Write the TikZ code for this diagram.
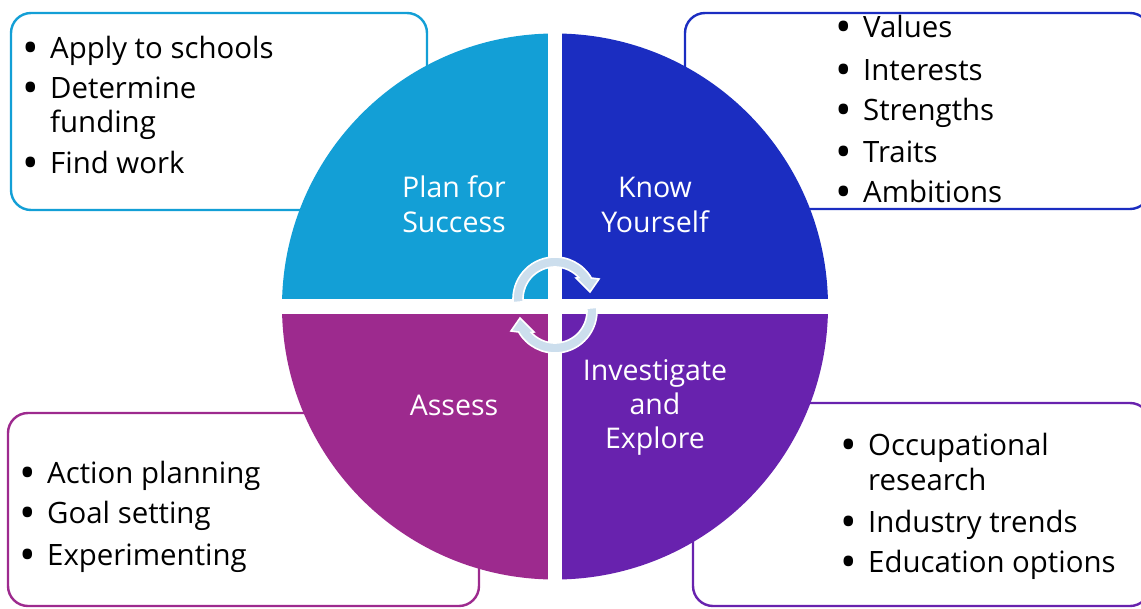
\documentclass[tikz,border=0pt]{standalone}
\usepackage{graphicx}
\usepackage{fontspec}
\setmainfont{Open Sans}
\definecolor{planblue}{HTML}{139FD6}
\definecolor{knowblue}{HTML}{1B2DC1}
\definecolor{explorepurple}{HTML}{6822AE}
\definecolor{assessmagenta}{HTML}{9D2A8E}
\definecolor{arrowfill}{HTML}{CCDEED}
\newcommand{\bulletmark}{\llap{\raisebox{-5.5pt}{\scalebox{1.5}{\textbullet}}\hspace{11pt}}}

\begin{document}
\begin{tikzpicture}[x=1pt,y=-1pt,
  listbox/.style={line width=2.4pt,rounded corners=20pt,fill=white},
  item/.style={anchor=base west,inner sep=0pt,font=\fontsize{29.4}{35}\selectfont},
  stage/.style={anchor=base,inner sep=0pt,text=white,font=\fontsize{28.5}{34}\selectfont},
  cyclearrow/.style={fill=arrowfill,draw=white,line width=1.6pt}]
\useasboundingbox (0,0) rectangle (1141,608);
% boxes behind the wheel
\draw[listbox,draw=planblue] (11,13) rectangle (427,210);
\draw[listbox,draw=knowblue] (685,13) rectangle (1150,209);
\draw[listbox,draw=assessmagenta] (8,413) rectangle (479,606);
\draw[listbox,draw=explorepurple] (693,403) rectangle (1150,606);
% wheel
\begin{scope}[shift={(555,306.5)}]
\fill[planblue] (0,0) -- (180:273) arc[start angle=180,end angle=270,radius=273] -- cycle;
\fill[knowblue] (0,0) -- (270:273) arc[start angle=270,end angle=360,radius=273] -- cycle;
\fill[explorepurple] (0,0) -- (0:273) arc[start angle=0,end angle=90,radius=273] -- cycle;
\fill[assessmagenta] (0,0) -- (90:273) arc[start angle=90,end angle=180,radius=273] -- cycle;
\fill[white] (-7,-280) rectangle (7,280);
\fill[white] (-280,-7.5) rectangle (280,7.5);
\end{scope}
% cycle arrows
\begin{scope}[shift={(555,299)}]
\draw[cyclearrow] (175:42) arc[start angle=175,end angle=330,radius=42] -- (44,-20) -- (35,-7) -- (21,-21) -- (318:32) arc[start angle=318,end angle=175,radius=32] -- cycle;
\end{scope}
\begin{scope}[shift={(555,311)},rotate=180]
\draw[cyclearrow] (175:42) arc[start angle=175,end angle=330,radius=42] -- (44,-20) -- (35,-7) -- (21,-21) -- (318:32) arc[start angle=318,end angle=175,radius=32] -- cycle;
\end{scope}
% stage names
\node[stage] (plan1) at (454,197) {Plan for};
\node[stage] (plan2) at (454,232) {Success};
\node[stage] (know1) at (655,197) {Know};
\node[stage] (know2) at (655,232) {Yourself};
\node[stage] (inv1) at (655,380) {Investigate};
\node[stage] (inv2) at (655,414) {and};
\node[stage] (inv3) at (655,448) {Explore};
\node[stage] (assess1) at (454,415) {Assess};
% plan for success
\node[item] (ps1) at (50,58) {\bulletmark Apply to schools};
\node[item] (ps2) at (50,98) {\bulletmark Determine};
\node[item] (ps3) at (50,132) {funding};
\node[item] (ps4) at (50,173) {\bulletmark Find work};
% know yourself
\node[item] (ky1) at (863,37) {\bulletmark Values};
\node[item] (ky2) at (863,80) {\bulletmark Interests};
\node[item] (ky3) at (863,120) {\bulletmark Strengths};
\node[item] (ky4) at (863,162) {\bulletmark Traits};
\node[item] (ky5) at (863,202) {\bulletmark Ambitions};
% assess
\node[item] (as1) at (47,483) {\bulletmark Action planning};
\node[item] (as2) at (47,523) {\bulletmark Goal setting};
\node[item] (as3) at (47,565) {\bulletmark Experimenting};
% investigate and explore
\node[item] (ie1) at (868,455) {\bulletmark Occupational};
\node[item] (ie2) at (868,490) {research};
\node[item] (ie3) at (868,532) {\bulletmark Industry trends};
\node[item] (ie4) at (868,572) {\bulletmark Education options};
\end{tikzpicture}
\end{document}
